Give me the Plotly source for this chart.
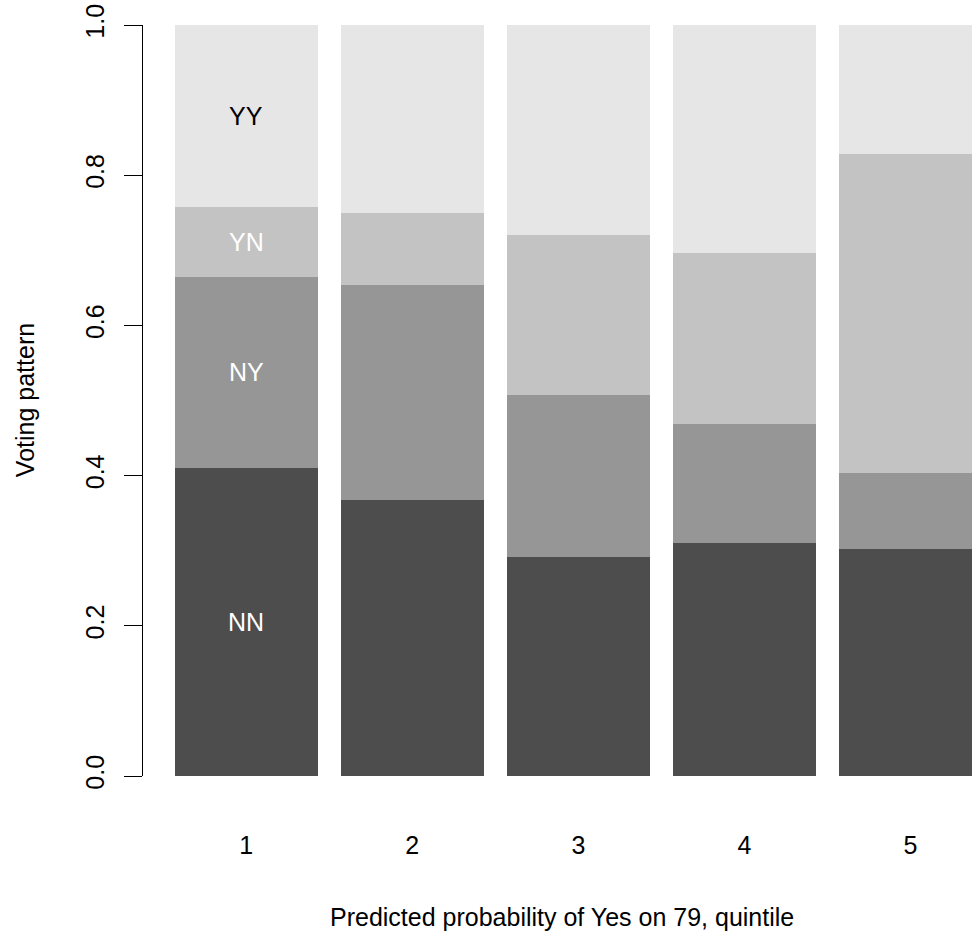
import plotly.graph_objects as go

quintiles = [1, 2, 3, 4, 5]
tick_labels = ["1", "2", "3", "4", "5"]
patterns = ["NN", "NY", "YN", "YY"]
NN = [0.410, 0.367, 0.291, 0.310, 0.302]
NY = [0.255, 0.287, 0.216, 0.159, 0.101]
YN = [0.093, 0.096, 0.213, 0.228, 0.425]
YY = [0.242, 0.250, 0.280, 0.303, 0.172]
series = [NN, NY, YN, YY]
colors = ["#4D4D4D", "#969696", "#C3C3C3", "#E6E6E6"]
label_colors = ["white", "white", "white", "black"]

FONT = "Liberation Sans, Arial, sans-serif"
W, H = 972, 937
L, R, T, B = 143.3, 0, 25, 161.3

fig = go.Figure()
for name, vals, col in zip(patterns, series, colors):
    fig.add_trace(go.Bar(x=quintiles, y=vals, name=name, width=0.8614,
                         marker=dict(color=col, line=dict(width=0))))

# segment labels inside the first bar
annotations = []
cum = 0.0
for name, vals, lc in zip(patterns, series, label_colors):
    mid = cum + vals[0] / 2
    cum += vals[0]
    annotations.append(dict(x=quintiles[0], y=mid, xref="x", yref="y", text=name,
                            showarrow=False, font=dict(family=FONT, size=25, color=lc)))

pw = W - L - R
ph = H - T - B
annotations.append(dict(x=(25 - L) / pw, y=0.5, xref="paper", yref="paper",
                        text="Voting pattern", textangle=-90, showarrow=False,
                        xanchor="center", yanchor="middle",
                        font=dict(family=FONT, size=25, color="black")))
annotations.append(dict(x=(562.5 - L) / pw, y=-(917 - (T + ph)) / ph, xref="paper", yref="paper",
                        text="Predicted probability of Yes on 79, quintile", showarrow=False,
                        xanchor="center", yanchor="middle",
                        font=dict(family=FONT, size=25, color="black")))

fig.update_layout(
    width=W, height=H, barmode="stack", bargap=0,
    margin=dict(l=L, r=R, t=T, b=B, pad=0),
    paper_bgcolor="white", plot_bgcolor="white",
    showlegend=False,
    annotations=annotations,
    xaxis=dict(range=[0.3783, 5.3705], tickmode="array", tickvals=quintiles, ticktext=tick_labels,
               showline=False, showgrid=False, zeroline=False, ticks="",
               ticklabelstandoff=52,
               tickfont=dict(family=FONT, size=25, color="black")),
    yaxis=dict(range=[0, 1], tickvals=[0, 0.2, 0.4, 0.6, 0.8, 1.0], tickformat=".1f",
               showline=True, linecolor="black", linewidth=1,
               ticks="outside", ticklen=18, tickcolor="black", tickwidth=1,
               tickangle=-90, ticklabelstandoff=10,
               showgrid=False, zeroline=False,
               tickfont=dict(family=FONT, size=25, color="black")),
)

fig.write_html("out.html")
